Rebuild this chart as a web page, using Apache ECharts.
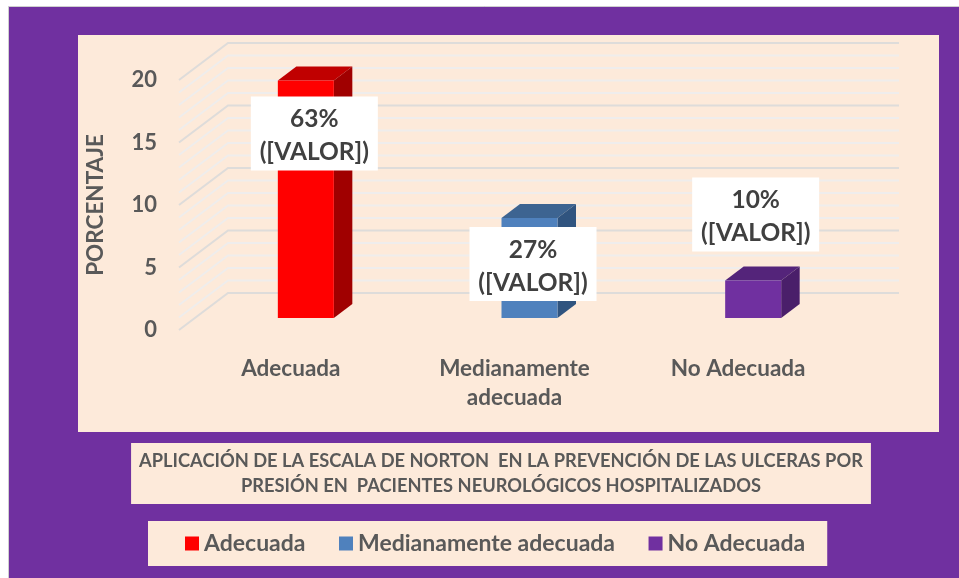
<!DOCTYPE html>
<html>
<head>
<meta charset="utf-8">
<script src="https://cdn.jsdelivr.net/npm/echarts@6/dist/echarts.min.js"></script>
<style>html,body{margin:0;padding:0;background:#fff}#c{width:959px;height:578px}</style>
</head>
<body>
<div id="c"></div>
<script>
const categories = ['Adecuada', 'Medianamente\nadecuada', 'No Adecuada'];
const seriesNames = ['Adecuada', 'Medianamente adecuada', 'No Adecuada'];
const values = [19, 8, 3];
const percentLabels = ['63%', '27%', '10%'];
const valueLabelText = '([VALOR])';
const gridValues = [0,1,2,3,4,5,6,7,8,9,10,11,12,13,14,15,16,17,18,19,20];
const titleText = 'APLICACIÓN DE LA ESCALA DE NORTON  EN LA PREVENCIÓN DE LAS ULCERAS POR\nPRESIÓN EN  PACIENTES NEUROLÓGICOS HOSPITALIZADOS';

const PURPLE = '#7030A0', PEACH = '#FDEADA', TEXT = '#595959', FONT = 'Lato';
const faces = [
  {front:'#FF0000', top:'#C00000', side:'#A00000'},
  {front:'#4F81BD', top:'#3D6491', side:'#30547F'},
  {front:'#7030A0', top:'#54247A', side:'#4A1F6A'}
];
const wallDX = 49, wallDY = 37;       // side-wall depth
const floorDX = 15, floorDY = 12;     // bar position on the floor
const barDX = 18.5, barDY = 14, barW = 56;
const labelW = 127, labelH = 74;
const labelShift = [[8.5, 53], [3.5, 46], [2.5, -66]];

function renderGrid(params, api) {
  const v = api.value(1);
  const p = api.coord([0, v]);
  const cs = params.coordSys;
  const major = v % 5 === 0;
  return {
    type: 'polyline',
    silent: true,
    shape: {points: [[cs.x, p[1]], [cs.x + wallDX, p[1] - wallDY], [cs.x + wallDX + cs.width, p[1] - wallDY]]},
    style: {fill: null, stroke: major ? '#DEDCDA' : '#EFEDEC', lineWidth: 2}
  };
}

function barRenderer(idx) {
  return function (params, api) {
    const top = api.coord([api.value(0), api.value(1)]);
    const bot = api.coord([api.value(0), 0]);
    const cx = top[0] + floorDX;
    const l = cx - barW / 2, r = cx + barW / 2;
    const yT = top[1] - floorDY, yB = bot[1] - floorDY;
    const c = faces[idx];
    const lx = cx + labelShift[idx][0], ly = yT + labelShift[idx][1];
    return {
      type: 'group',
      children: [
        {type: 'polygon', shape: {points: [[l, yT], [r, yT], [r + barDX, yT - barDY], [l + barDX, yT - barDY]]}, style: {fill: c.top}},
        {type: 'polygon', shape: {points: [[r, yT], [r + barDX, yT - barDY], [r + barDX, yB - barDY], [r, yB]]}, style: {fill: c.side}},
        {type: 'rect', shape: {x: l, y: yT, width: barW, height: yB - yT}, style: {fill: c.front}},
        {type: 'rect', z2: 10, shape: {x: lx - labelW / 2, y: ly - labelH / 2, width: labelW, height: labelH}, style: {fill: '#fff'}},
        {type: 'text', z2: 11, style: {
          x: lx, y: ly - 14, text: percentLabels[idx], fill: '#404040',
          font: 'bold 24.5px ' + FONT, textAlign: 'center', textVerticalAlign: 'middle'}},
        {type: 'text', z2: 11, style: {
          x: lx, y: ly + 19, text: valueLabelText, fill: '#404040',
          font: 'bold 24.5px ' + FONT, textAlign: 'center', textVerticalAlign: 'middle'}}
      ]
    };
  };
}

const chart = echarts.init(document.getElementById('c'), null, {renderer: 'canvas'});
chart.setOption({
  animation: false,
  backgroundColor: '#fff',
  textStyle: {fontFamily: FONT},
  graphic: {elements: [
    {type: 'rect', silent: true, z: -2, shape: {x: 8.5, y: 6.5, width: 960, height: 580}, style: {fill: PURPLE, stroke: '#CFCFCF', lineWidth: 1}},
    {type: 'rect', silent: true, z: -1, shape: {x: 78, y: 35, width: 861, height: 397}, style: {fill: PEACH}}
  ]},
  title: {
    text: titleText,
    left: 493, top: 443,
    textAlign: 'center',
    padding: [5.5, 8, 5.5, 8],
    backgroundColor: PEACH,
    textStyle: {fontFamily: FONT, fontSize: 18.3, fontWeight: 'bold', color: TEXT, lineHeight: 25}
  },
  legend: {
    data: seriesNames,
    left: 148, top: 521,
    padding: [11, 22, 11, 37],
    backgroundColor: PEACH,
    itemWidth: 14, itemHeight: 14, itemGap: 33.5,
    icon: 'rect',
    textStyle: {fontFamily: FONT, fontSize: 23, fontWeight: 'bold', color: TEXT}
  },
  grid: {left: 179, top: 80, width: 671, height: 250},
  xAxis: {
    type: 'category', data: categories,
    axisLine: {show: false}, axisTick: {show: false},
    axisLabel: {fontFamily: FONT, fontSize: 22.5, fontWeight: 'bold', color: TEXT, margin: 24, lineHeight: 29, interval: 0}
  },
  yAxis: {
    type: 'value', min: 0, max: 20, interval: 5,
    name: 'PORCENTAJE', nameLocation: 'middle', nameRotate: 90, nameGap: 72,
    nameTextStyle: {fontFamily: FONT, fontSize: 22.5, fontWeight: 'bold', color: TEXT},
    axisLine: {show: false}, axisTick: {show: false}, splitLine: {show: false},
    axisLabel: {fontFamily: FONT, fontSize: 22, fontWeight: 'bold', color: TEXT, margin: 22}
  },
  series: [
    {type: 'custom', name: 'grid', silent: true, clip: false, z: 1, renderItem: renderGrid,
     encode: {x: 0, y: 1}, data: gridValues.map(v => [0, v])}
  ].concat(seriesNames.map((n, i) => ({
    type: 'custom', name: n, clip: false, z: 3 + i, renderItem: barRenderer(i),
    itemStyle: {color: faces[i].front},
    encode: {x: 0, y: 1}, data: [[i, values[i]]]
  })))
});
</script>
</body>
</html>
